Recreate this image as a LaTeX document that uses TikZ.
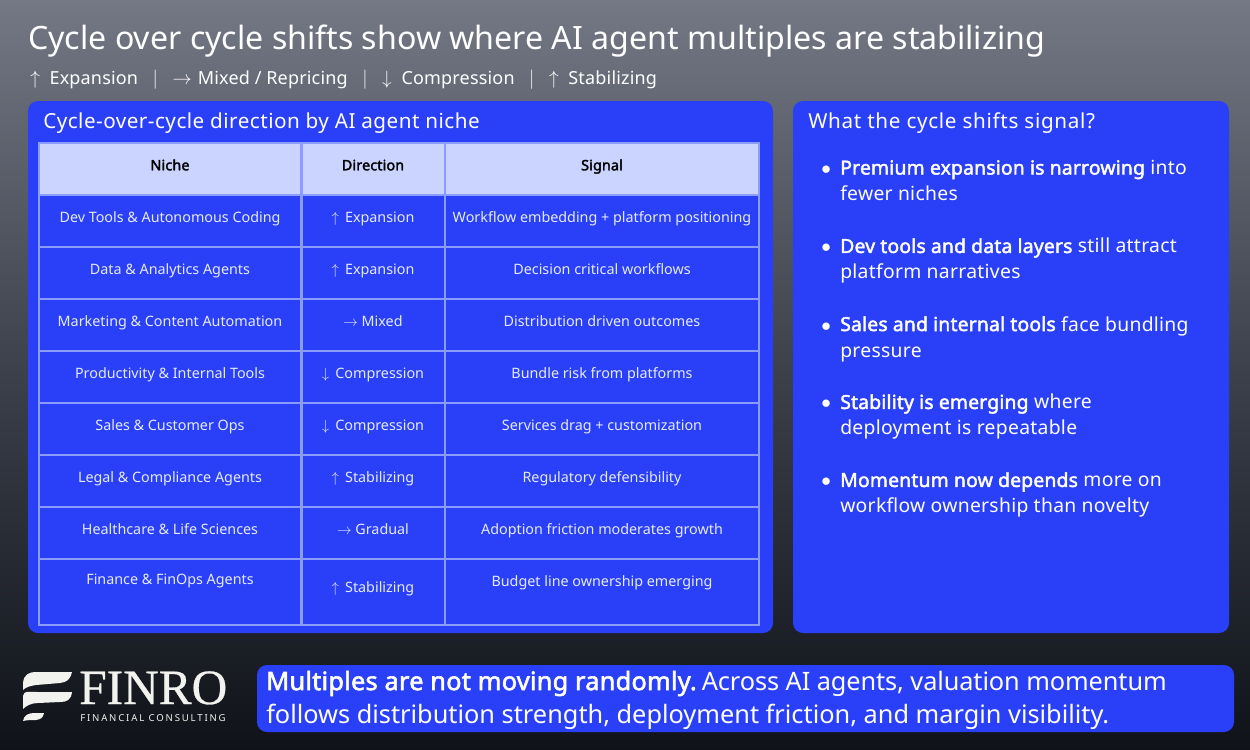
\documentclass[tikz,border=0pt]{standalone}
\usepackage{fontspec}
\setmainfont{Noto Sans}[BoldFont={Noto Sans},BoldFeatures={FakeBold=2.2,LetterSpace=1}]
\newfontfamily\seriffont{Liberation Serif}
\newcommand{\upar}{\ensuremath{\uparrow}}
\newcommand{\rightar}{\ensuremath{\rightarrow}}
\newcommand{\downar}{\ensuremath{\downarrow}}
\definecolor{panelblue}{HTML}{2940F8}
\definecolor{gridblue}{HTML}{8B9CFF}
\definecolor{headblue}{HTML}{CAD4FF}
\definecolor{celltext}{HTML}{E6EAFF}
\definecolor{bgtop}{HTML}{737884}
\definecolor{bgmid}{HTML}{3C404B}
\definecolor{bgbottom}{HTML}{0F1218}
\definecolor{logowhite}{HTML}{F2F2EE}
\tikzstyle{panel}=[fill=panelblue,rounded corners=7.5pt,inner sep=0pt,outer sep=0pt]
\tikzstyle{cell}=[draw=gridblue,line width=1.5pt,inner sep=0pt,outer sep=0pt,align=center,text=celltext,font=\fontsize{10.75}{13}\selectfont,text height=8pt,text depth=4.5pt]
\tikzstyle{nichecell}=[cell,minimum width=196.5pt,minimum height=39pt]
\tikzstyle{dircell}=[cell,minimum width=107.25pt,minimum height=39pt]
\tikzstyle{sigcell}=[cell,minimum width=235.5pt,minimum height=39pt]
\tikzstyle{headcell}=[fill=headblue,text=black,font=\fontsize{10.75}{13}\selectfont\bfseries,text depth=5.3pt]
\tikzstyle{paneltitle}=[anchor=west,inner sep=0pt,text=white,font=\fontsize{15.5}{18}\selectfont\addfontfeature{LetterSpace=2.3}]
\tikzstyle{bullet}=[anchor=north west,inner sep=0pt,align=left,text=white,font=\fontsize{14.5}{19.5}\selectfont\addfontfeature{LetterSpace=1.5}]
\begin{document}
\begin{tikzpicture}[x=0.75pt,y=-0.75pt]
      \shade [top color=bgtop,bottom color=bgbottom,middle color=bgmid] (0,0) rectangle (1250,750);
      \useasboundingbox (0,0) rectangle (1250,750);
      \node (title) [anchor=west,inner sep=0pt,text=white,font=\fontsize{24.1}{28}\selectfont] at (28,41) {Cycle over cycle shifts show where AI agent multiples are stabilizing};
      \node (legend) [anchor=west,inner sep=0pt,text=white,font=\fontsize{13.5}{16}\selectfont\addfontfeature{LetterSpace=1}] at (30,80) {\upar{} \ Expansion \ \ $|$ \ \ \rightar{}\,\,Mixed / Repricing \ \ $|$ \ \ \downar{} \ Compression \ \ $|$ \ \ \upar{} \ Stabilizing};
      % panels
      \node (panelL) [panel,minimum width=558.75pt,minimum height=399pt] at (400.5,367) {};
      \node (panelR) [panel,minimum width=327pt,minimum height=399pt] at (1011,367) {};
      \node (panelB) [panel,minimum width=732.75pt,minimum height=50.25pt] at (745.5,698.5) {};
      \node (titleL) [paneltitle] at (43,123) {Cycle-over-cycle direction by AI agent niche};
      \node (titleR) [paneltitle,font=\fontsize{15.5}{18}\selectfont\addfontfeature{LetterSpace=3.2}] at (808,123) {What the cycle shifts signal?};
      % table
      \node (h1) [nichecell,headcell] at (170,168.5) {Niche};
      \node (h2) [dircell,headcell] at (373,168.5) {Direction};
      \node (h3) [sigcell,headcell] at (602,168.5) {Signal};
      \node (n1) [nichecell] at (170,220.5) {Dev Tools \& Autonomous Coding};
      \node (d1) [dircell] at (373,220.5) {\upar{}\, Expansion};
      \node (s1) [sigcell] at (602,220.5) {Workflow embedding + platform positioning};
      \node (n2) [nichecell] at (170,272.5) {Data \& Analytics Agents};
      \node (d2) [dircell] at (373,272.5) {\upar{}\, Expansion};
      \node (s2) [sigcell] at (602,272.5) {Decision critical workflows};
      \node (n3) [nichecell] at (170,324.5) {Marketing \& Content Automation};
      \node (d3) [dircell] at (373,324.5) {\rightar{} Mixed};
      \node (s3) [sigcell] at (602,324.5) {Distribution driven outcomes};
      \node (n4) [nichecell] at (170,376.5) {Productivity \& Internal Tools};
      \node (d4) [dircell] at (373,376.5) {\downar{}\, Compression};
      \node (s4) [sigcell] at (602,376.5) {Bundle risk from platforms};
      \node (n5) [nichecell] at (170,428.5) {Sales \& Customer Ops};
      \node (d5) [dircell] at (373,428.5) {\downar{}\, Compression};
      \node (s5) [sigcell] at (602,428.5) {Services drag + customization};
      \node (n6) [nichecell] at (170,480.5) {Legal \& Compliance Agents};
      \node (d6) [dircell] at (373,480.5) {\upar{}\, Stabilizing};
      \node (s6) [sigcell] at (602,480.5) {Regulatory defensibility};
      \node (n7) [nichecell] at (170,532.5) {Healthcare \& Life Sciences};
      \node (d7) [dircell] at (373,532.5) {\rightar{} Gradual};
      \node (s7) [sigcell] at (602,532.5) {Adoption friction moderates growth};
      \node (n8) [nichecell,minimum height=49.5pt,text depth=20pt] at (170,592) {Finance \& FinOps Agents};
      \node (d8) [dircell,minimum height=49.5pt,text depth=8pt] at (373,592) {\upar{}\, Stabilizing};
      \node (s8) [sigcell,minimum height=49.5pt,text depth=17pt] at (602,592) {Budget line ownership emerging};
      % signal list
      \node (b1) [bullet] at (840,160) {\llap{$\bullet$\hspace{7pt}}\textbf{Premium expansion is narrowing} into\\fewer niches};
      \node (b2) [bullet] at (840,238) {\llap{$\bullet$\hspace{7pt}}\textbf{Dev tools and data layers} still attract\\platform narratives};
      \node (b3) [bullet] at (840,316) {\llap{$\bullet$\hspace{7pt}}\textbf{Sales and internal tools} face bundling\\pressure};
      \node (b4) [bullet] at (840,394) {\llap{$\bullet$\hspace{7pt}}\textbf{Stability is emerging} where\\deployment is repeatable};
      \node (b5) [bullet] at (840,472) {\llap{$\bullet$\hspace{7pt}}\textbf{Momentum now depends} more on\\workflow ownership than novelty};
      % takeaway
      \node (takeaway) [anchor=west,inner sep=0pt,align=left,text=white,font=\fontsize{19}{24.75}\selectfont] at (266,700) {\textbf{Multiples are not moving randomly.}\hspace{-3pt} {\addfontfeature{LetterSpace=-0.4}Across AI agents, valuation momentum}\\follows distribution strength, deployment friction, and margin visibility.};
      % logo
      \fill [logowhite] (23,683) .. controls (24,674) and (29,672) .. (37,672) -- (72,672) .. controls (70,680) and (67,682) .. (60,683) -- (36,685) .. controls (30,686) and (26,687) .. (23,690) -- cycle;
      \fill [logowhite] (23,700) -- (23,696) .. controls (24,690) and (29,692) .. (37,692) -- (72,692) .. controls (71,700) and (67,702) .. (60,702) -- (38,703) .. controls (31,703) and (26,706) .. (23,709) -- cycle;
      \fill [logowhite] (23,721) .. controls (24,715) and (28,713) .. (35,713) -- (44,713) .. controls (43,718) and (41,719) .. (36,720) .. controls (31,720) and (27,720) .. (23,721) -- cycle;
      \node (finro) [anchor=base west,inner sep=0pt,text=logowhite,font=\seriffont\fontsize{37}{37}\selectfont\addfontfeature{FakeBold=0.6}] at (79,704) {FINRO};
      \node (consulting) [anchor=base west,inner sep=0pt,text=logowhite,font=\fontsize{7.2}{8}\selectfont\addfontfeature{LetterSpace=19}] at (80,721) {FINANCIAL CONSULTING};
\end{tikzpicture}
\end{document}
